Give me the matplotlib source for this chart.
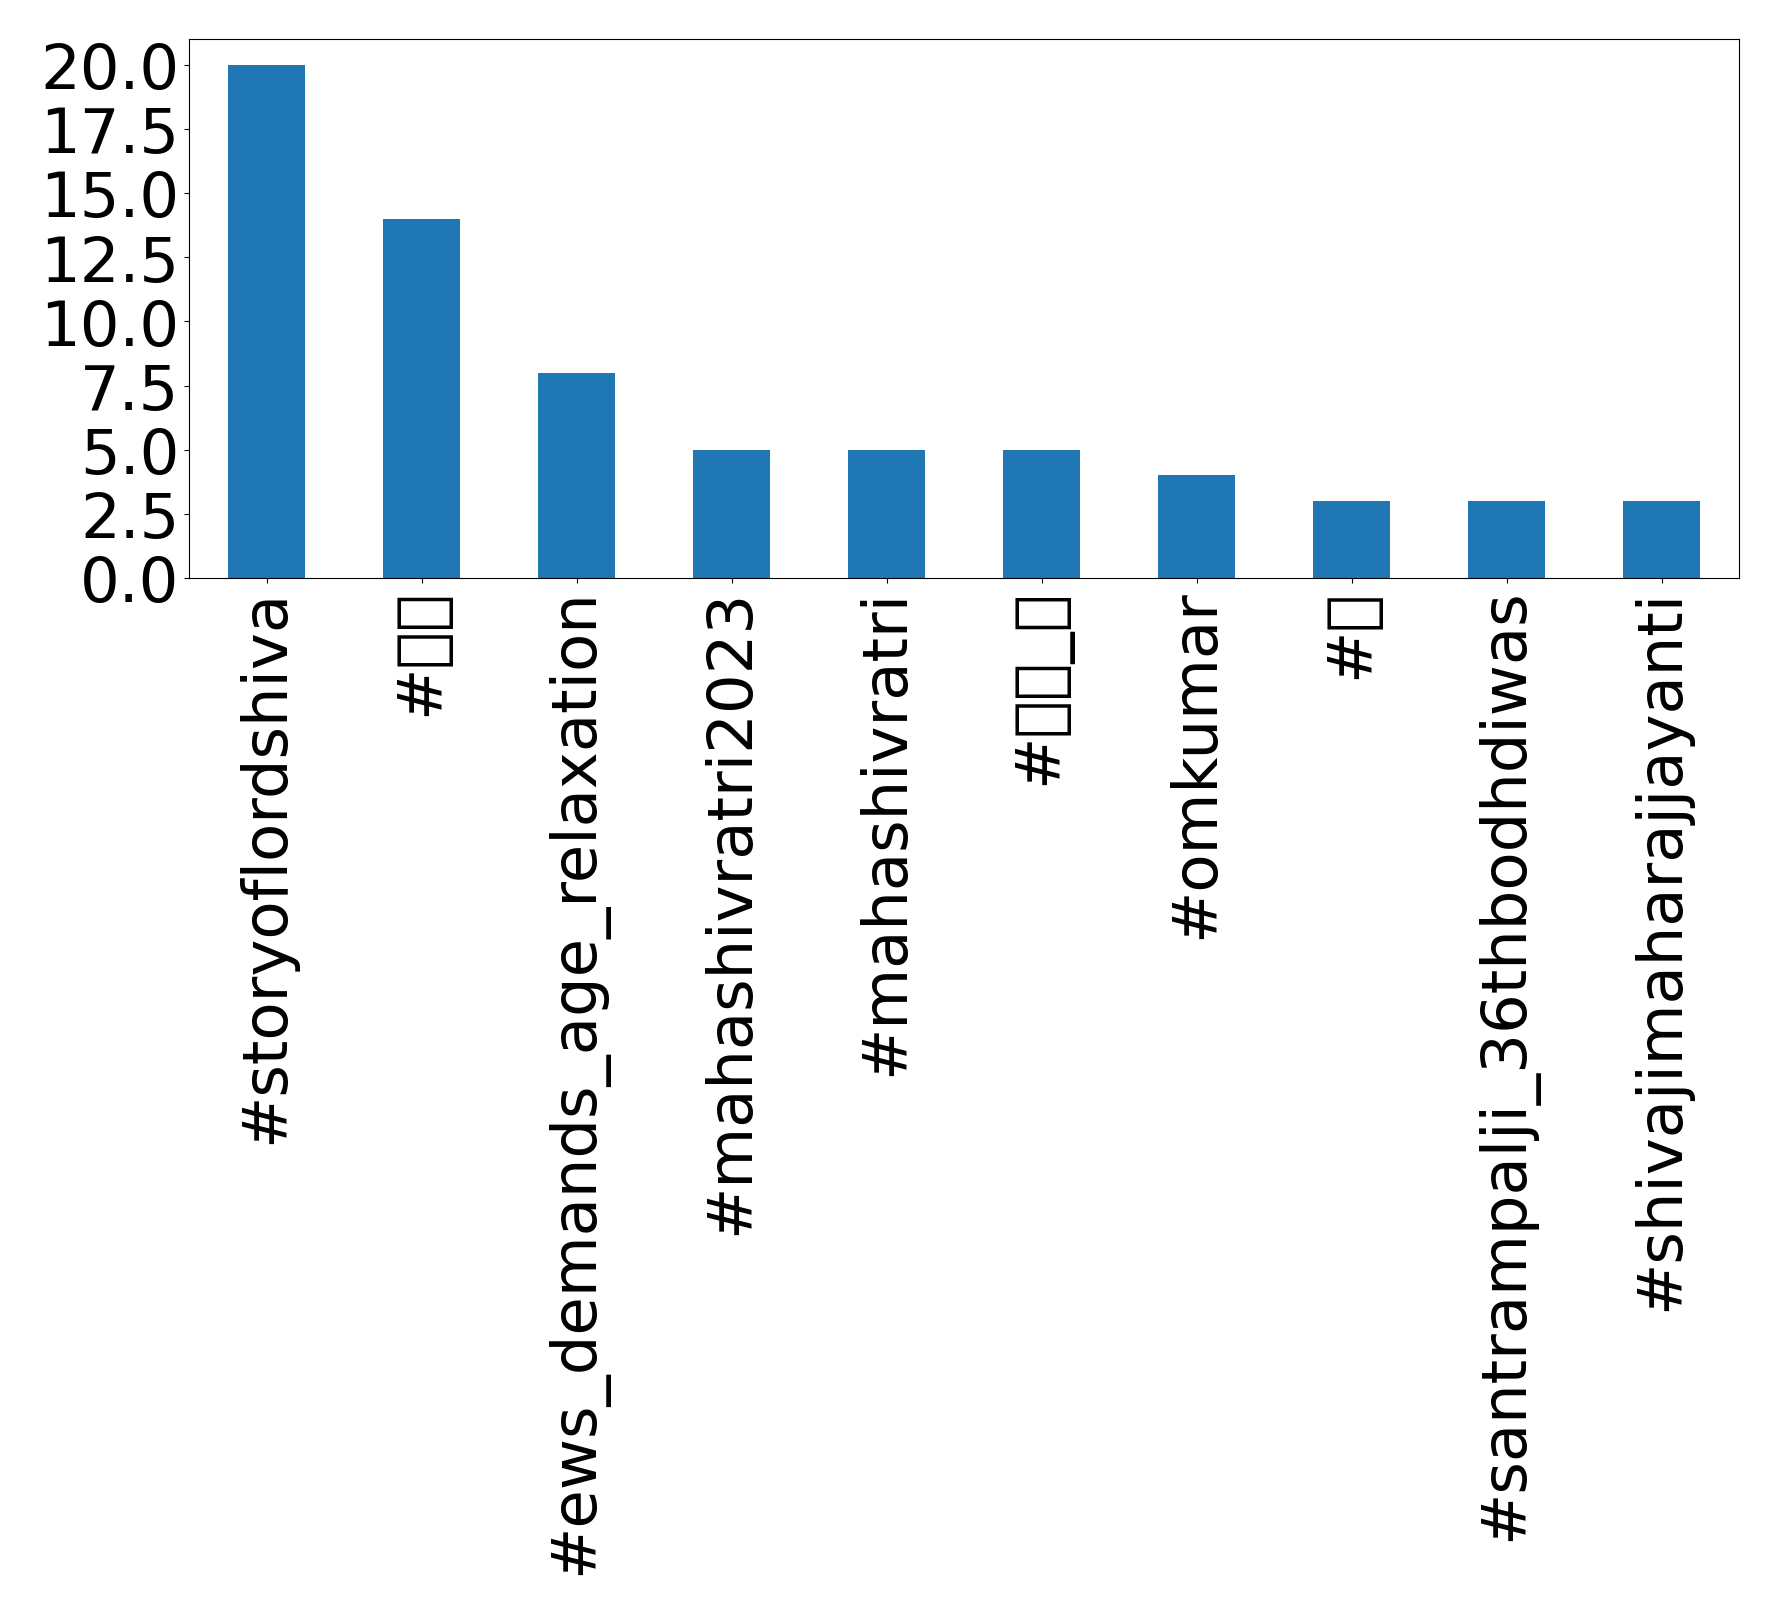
import matplotlib
matplotlib.use("Agg")
import matplotlib.pyplot as plt
import numpy as np

hashtags = ["#storyoflordshiva", "#हर", "#ews_demands_age_relaxation",
            "#mahashivratri2023", "#mahashivratri", "#जय_ॐ", "#omkumar",
            "#ॐ", "#santrampalji_36thbodhdiwas", "#shivajimaharajjayanti"]
counts = [20, 14, 8, 5, 5, 5, 4, 3, 3, 3]

fig = plt.figure(figsize=(17.78, 16.15), dpi=100)
ax = fig.add_axes([189/1778, 1 - 579/1615, (1739-189)/1778, (579-40)/1615])

x = np.arange(len(counts))
ax.bar(x, counts, width=0.5, color="#1f77b4")
ax.set_xlim(-0.5, len(counts) - 0.5)
ax.set_ylim(0, 21)
ax.set_yticks(np.arange(0, 20.1, 2.5))
ax.set_xticks(x)
ax.set_xticklabels(hashtags, rotation=90)
ax.tick_params(labelsize=45)

fig.savefig("out.png", dpi=100)
